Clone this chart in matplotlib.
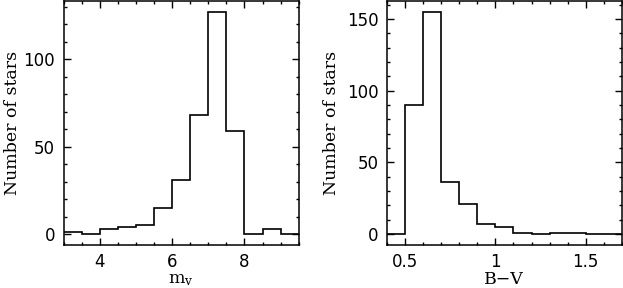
import numpy as np
import matplotlib.pyplot as plt
from matplotlib.ticker import MultipleLocator

# histogram of apparent magnitude m_V
mv_edges = [3.0, 3.5, 4.0, 4.5, 5.0, 5.5, 6.0, 6.5, 7.0, 7.5, 8.0, 8.5, 9.0, 9.5]
mv_counts = [1, 0, 3, 4, 5, 15, 31, 68, 127, 59, 0, 3, 0]

# histogram of colour B-V
bv_edges = [0.4, 0.5, 0.6, 0.7, 0.8, 0.9, 1.0, 1.1, 1.2, 1.3, 1.4, 1.5, 1.6, 1.7]
bv_counts = [0, 90, 155, 36, 21, 7, 5, 1, 0, 1, 1, 0, 0]

plt.rcParams["font.family"] = ["DejaVu Sans"]
plt.rcParams["mathtext.fontset"] = "dejavuserif"
plt.rcParams["font.size"] = 12

fig = plt.figure(figsize=(6.23, 2.88), dpi=100)
ax1 = fig.add_axes([0.102, 0.149, 0.3775, 0.848])
ax2 = fig.add_axes([0.6207, 0.149, 0.3777, 0.848])

lab = dict(family="DejaVu Serif", fontsize=12.5)


def style(ax, xmaj, xmin, ymaj, ymin):
    ax.xaxis.set_major_locator(MultipleLocator(xmaj))
    ax.xaxis.set_minor_locator(MultipleLocator(xmin))
    ax.yaxis.set_major_locator(MultipleLocator(ymaj))
    ax.yaxis.set_minor_locator(MultipleLocator(ymin))
    ax.tick_params(which="both", direction="in", top=True, right=True,
                   width=1.0, labelsize=12, pad=6)
    ax.tick_params(which="major", length=5)
    ax.tick_params(which="minor", length=2.5)
    for s in ax.spines.values():
        s.set_linewidth(1.1)


ax1.stairs(mv_counts, mv_edges, baseline=None, color="black", lw=1.2)
ax1.set_xlim(mv_edges[0], mv_edges[-1])
ax1.set_ylim(-0.05 * max(mv_counts), 1.05 * max(mv_counts))
style(ax1, 2, 0.5, 50, 10)
ax1.set_xlabel(r"m$_\mathrm{v}$", labelpad=0, **lab)
ax1.set_ylabel("Number of stars", labelpad=2, **lab)

ax2.stairs(bv_counts, bv_edges, baseline=None, color="black", lw=1.2)
ax2.set_xlim(bv_edges[0], bv_edges[-1])
ax2.set_ylim(-0.05 * max(bv_counts), 1.05 * max(bv_counts))
style(ax2, 0.5, 0.1, 50, 10)
ax2.xaxis.set_major_formatter(lambda v, p: f"{v:g}")
ax2.set_xlabel("B\u2212V", labelpad=0, **lab)
ax2.set_ylabel("Number of stars", labelpad=5, **lab)

fig.savefig("out.png", dpi=100)
